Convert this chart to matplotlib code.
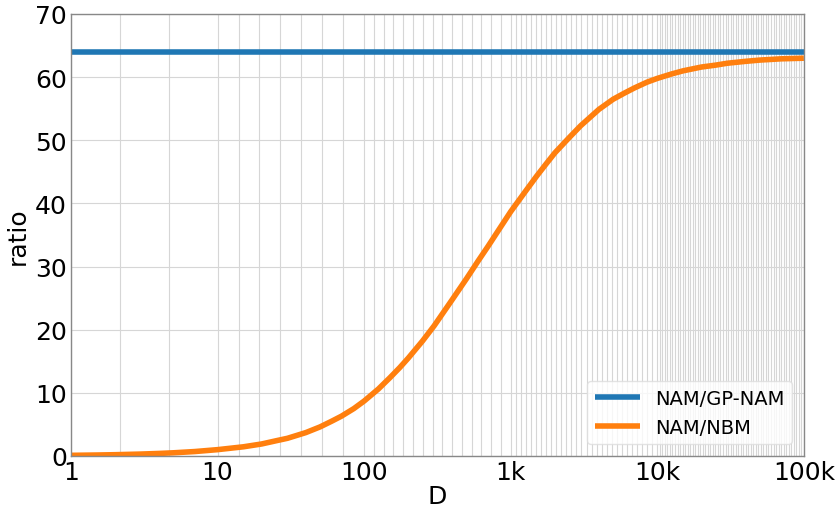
import matplotlib
matplotlib.use('Agg')
import matplotlib.pyplot as plt
import numpy as np
from matplotlib.ticker import FixedLocator, NullFormatter

# values
D = [1, 1.5, 2, 3, 4, 5, 7,
     10, 15, 20, 25, 30, 40, 50, 60, 70, 85,
     100, 125, 150, 175, 200, 250, 300, 400, 500, 600, 700, 850,
     1000, 1250, 1500, 1750, 2000, 2500, 3000, 4000, 5000, 6000, 7000, 8500,
     10000, 12500, 15000, 20000, 25000, 30000, 40000, 50000, 70000, 100000]
nam_nbm = [0.1, 0.15, 0.2, 0.3, 0.4, 0.5, 0.7,
           1.0, 1.45, 1.9, 2.4, 2.8, 3.7, 4.6, 5.5, 6.3, 7.5,
           8.7, 10.6, 12.4, 14.0, 15.5, 18.2, 20.6, 24.8, 28.1, 30.9, 33.2, 36.2,
           38.7, 41.8, 44.3, 46.3, 48.0, 50.4, 52.3, 54.9, 56.5, 57.5, 58.3, 59.2,
           59.8, 60.5, 61.0, 61.6, 61.9, 62.2, 62.5, 62.7, 62.9, 63.0]
nam_gpnam = [64.0] * len(D)
xtick_vals = [1, 10, 100, 1000, 10000, 100000]
xtick_labels = ['1', '10', '100', '1k', '10k', '100k']

plt.rcParams['font.family'] = 'DejaVu Sans'
plt.rcParams['font.size'] = 18

fig = plt.figure(figsize=(8.4, 5.1), dpi=100)
ax = fig.add_axes([0.0845, 0.104, 0.8725, 0.8666])

ax.plot(D, nam_gpnam, color='#1f77b4', lw=4, label='NAM/GP-NAM', solid_capstyle='butt')
ax.plot(D, nam_nbm, color='#ff7f0e', lw=4, label='NAM/NBM', solid_capstyle='butt')

ax.set_xscale('log')
ax.set_xlim(1, 100000)
ax.set_ylim(0, 70)
ax.set_xticks(xtick_vals)
ax.set_xticklabels(xtick_labels)
ax.set_yticks(range(0, 71, 10))

# dense vertical grid, finer in every decade
minor = []
for k, n in enumerate([3, 7, 15, 29, 58]):
    minor += list(10 ** (k + np.arange(1, n) / n))
ax.xaxis.set_minor_locator(FixedLocator(minor))
ax.xaxis.set_minor_formatter(NullFormatter())

ax.grid(True, which='major', color='#d6d6d6', lw=0.8)
ax.grid(True, which='minor', axis='x', color='#d6d6d6', lw=0.8)
ax.set_axisbelow(True)
ax.tick_params(which='both', length=0, pad=3, labelsize=18)
for s in ax.spines.values():
    s.set_color('#888888')
    s.set_linewidth(1)

ax.set_xlabel('D', fontsize=18, labelpad=0)
ax.set_ylabel('ratio', fontsize=18, labelpad=4)

ax.legend(loc='lower right', fontsize=14, handlelength=2.3, framealpha=0.8,
          edgecolor='#dddddd', borderaxespad=0.6)

fig.savefig('out.png', dpi=100)
